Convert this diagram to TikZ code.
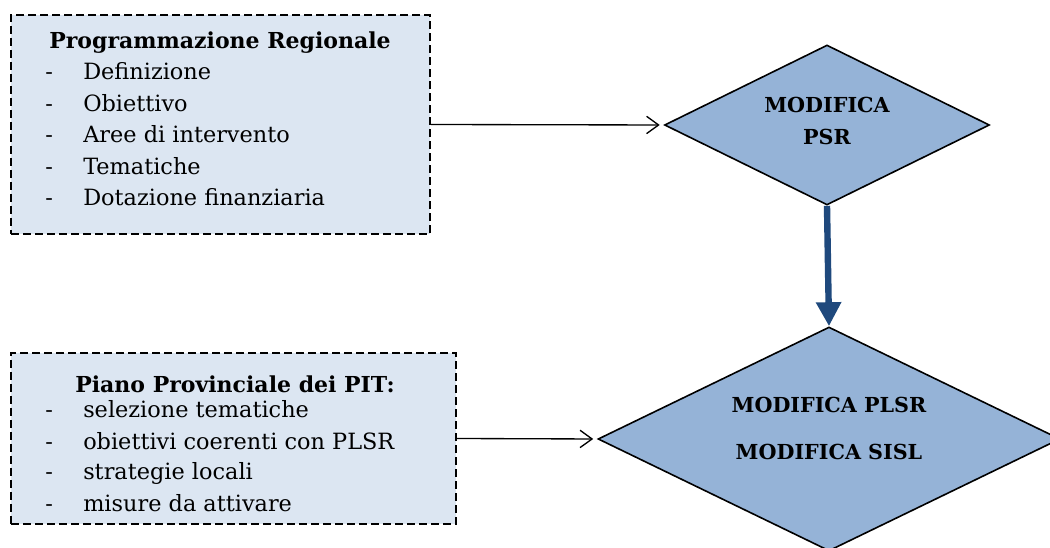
\documentclass[tikz,border=0pt]{standalone}
\usepackage{fontspec}
\setmainfont{DejaVu Serif}
\usetikzlibrary{shapes.geometric,arrows.meta}
\definecolor{boxfill}{HTML}{DCE6F2}
\definecolor{diafill}{HTML}{95B3D7}
\definecolor{flow}{HTML}{1F497D}
\begin{document}
\begin{tikzpicture}[x=0.75pt,y=-0.75pt,
  infobox/.style={rectangle, draw, dash pattern=on 6pt off 3pt, line width=1.2pt, fill=boxfill, inner sep=0pt},
  decision/.style={diamond, draw, line width=1.2pt, fill=diafill, inner sep=0pt},
  itemtxt/.style={anchor=base west, inner sep=0pt, font=\fontsize{16.8}{20}\selectfont},
  titletxt/.style={anchor=base, inner sep=0pt, font=\fontsize{16.5}{20}\selectfont\bfseries},
  diatxt/.style={anchor=base, inner sep=0pt, font=\fontsize{15.5}{20}\selectfont\bfseries},
  link/.style={-{Straight Barb[length=9pt,width=13pt]}, line width=1pt, shorten >=3pt},
  flowarrow/.style={-{Triangle[length=18pt,width=18pt]}, line width=4.8pt, draw=flow}
]
\useasboundingbox (0,0) rectangle (1050,548);
\clip (0,0) rectangle (1050,548);

% regional programming box
\node[infobox, minimum width=314.25pt, minimum height=164.25pt] (b1) at (220.5,124.5) {};
\node[titletxt] (b1t) at (220,49) {Programmazione Regionale};
\node[itemtxt] (b1a) at (45,80)  {\makebox[28.5pt][l]{-}Definizione};
\node[itemtxt] (b1b) at (45,112) {\makebox[28.5pt][l]{-}Obiettivo};
\node[itemtxt] (b1c) at (45,143) {\makebox[28.5pt][l]{-}Aree di intervento};
\node[itemtxt] (b1d) at (45,175) {\makebox[28.5pt][l]{-}Tematiche};
\node[itemtxt] (b1e) at (45,206) {\makebox[28.5pt][l]{-}Dotazione finanziaria};

% provincial plan box
\node[infobox, minimum width=333.75pt, minimum height=128.25pt] (b2) at (233.5,438.5) {};
\node[titletxt] (b2t) at (235,393) {Piano Provinciale dei PIT:};
\node[itemtxt] (b2a) at (45,418) {\makebox[28.5pt][l]{-}selezione tematiche};
\node[itemtxt] (b2b) at (45,450) {\makebox[28.5pt][l]{-}obiettivi coerenti con PLSR};
\node[itemtxt] (b2c) at (45,480) {\makebox[28.5pt][l]{-}strategie locali};
\node[itemtxt] (b2d) at (45,512) {\makebox[28.5pt][l]{-}misure da attivare};

% decision diamonds
\node[decision, minimum width=243.75pt, minimum height=120pt] (d1) at (827,125) {};
\node[diatxt] (d1a) at (827,113) {MODIFICA};
\node[diatxt] (d1b) at (827,145) {PSR};

\node[decision, minimum width=346.5pt, minimum height=168pt] (d2) at (829,439) {};
\node[diatxt] (d2a) at (829,413) {MODIFICA PLSR};
\node[diatxt] (d2b) at (829,460) {MODIFICA SISL};

% connectors
\draw[link] (b1.east) -- (d1.west);
\draw[link] (b2.east) -- (d2.west);
\draw[flowarrow] (d1.south) -- (d2.north);
\end{tikzpicture}
\end{document}
